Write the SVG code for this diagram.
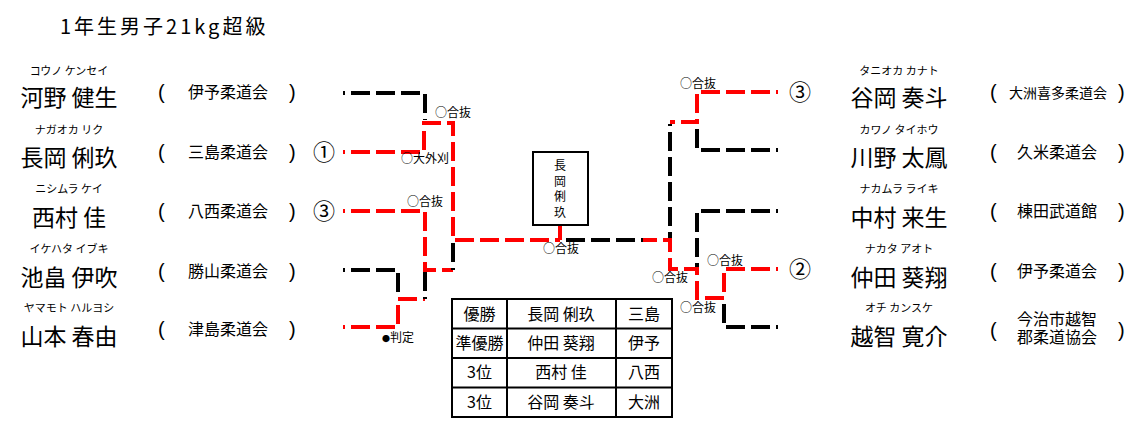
<svg xmlns="http://www.w3.org/2000/svg" width="1140" height="430" viewBox="0 0 1140 430">
<style>
text{font-family:"Noto Sans CJK JP","Noto Sans CJK SC",sans-serif;fill:#000}
.title{font-size:20px;letter-spacing:3px}
.kana{font-size:11px;text-anchor:middle}
.name{font-size:23px;text-anchor:middle}
.club{font-size:16px;text-anchor:middle}
.club2{font-size:14px;text-anchor:middle}
.par{font-size:20px;font-family:"Liberation Sans",sans-serif}
.num{font-size:22px;text-anchor:middle}
.lbl{font-size:12px}
.tb{font-size:16px;text-anchor:middle}
.bx{font-size:12px;text-anchor:middle}
.k{stroke:#000;stroke-width:4;fill:none;stroke-dasharray:19 6;stroke-dashoffset:17}
.r{stroke:#f00;stroke-width:4;fill:none;stroke-dasharray:19 6;stroke-dashoffset:17}
.grid{stroke:#000;stroke-width:2;fill:none}
</style>
<text class="title" x="60" y="34">1年生男子21kg超級</text>

<g id="left-1"><text class="kana" x="69" y="75">コウノ ケンセイ</text><text class="name" x="69" y="106">河野 健生</text><text class="par" x="158" y="99">(</text><text class="club" x="228" y="98">伊予柔道会</text><text class="par" x="289" y="99">)</text></g>
<g id="left-2"><text class="kana" x="69" y="134">ナガオカ リク</text><text class="name" x="69" y="166">長岡 俐玖</text><text class="par" x="158" y="159">(</text><text class="club" x="228" y="158">三島柔道会</text><text class="par" x="289" y="159">)</text><text class="num" x="324" y="160">①</text></g>
<g id="left-3"><text class="kana" x="69" y="193">ニシムラ ケイ</text><text class="name" x="69" y="226">西村 佳</text><text class="par" x="158" y="218">(</text><text class="club" x="228" y="217">八西柔道会</text><text class="par" x="289" y="218">)</text><text class="num" x="324" y="219">③</text></g>
<g id="left-4"><text class="kana" x="69" y="253">イケハタ イブキ</text><text class="name" x="69" y="286">池畠 伊吹</text><text class="par" x="158" y="278">(</text><text class="club" x="228" y="277">勝山柔道会</text><text class="par" x="289" y="278">)</text></g>
<g id="left-5"><text class="kana" x="69" y="312">ヤマモト ハルヨシ</text><text class="name" x="69" y="345">山本 春由</text><text class="par" x="158" y="336">(</text><text class="club" x="228" y="335">津島柔道会</text><text class="par" x="289" y="336">)</text></g>

<g id="right-1"><text class="kana" x="899" y="75">タニオカ カナト</text><text class="name" x="899" y="106">谷岡 奏斗</text><text class="par" x="990" y="99">(</text><text class="club2" x="1058" y="98">大洲喜多柔道会</text><text class="par" x="1118" y="99">)</text><text class="num" x="800" y="100">③</text></g>
<g id="right-2"><text class="kana" x="899" y="134">カワノ タイホウ</text><text class="name" x="899" y="166">川野 太鳳</text><text class="par" x="990" y="159">(</text><text class="club" x="1057" y="158">久米柔道会</text><text class="par" x="1118" y="159">)</text></g>
<g id="right-3"><text class="kana" x="899" y="193">ナカムラ ライキ</text><text class="name" x="899" y="226">中村 来生</text><text class="par" x="990" y="218">(</text><text class="club" x="1057" y="217">棟田武道館</text><text class="par" x="1118" y="218">)</text></g>
<g id="right-4"><text class="kana" x="899" y="253">ナカタ アオト</text><text class="name" x="899" y="286">仲田 葵翔</text><text class="par" x="990" y="278">(</text><text class="club" x="1057" y="277">伊予柔道会</text><text class="par" x="1118" y="278">)</text><text class="num" x="800" y="277">②</text></g>
<g id="right-5"><text class="kana" x="899" y="312">オチ カンスケ</text><text class="name" x="899" y="345">越智 寛介</text><text class="par" x="990" y="337">(</text><text class="club" x="1057" y="325">今治市越智<tspan x="1057" y="343">郡柔道協会</tspan></text><text class="par" x="1118" y="337">)</text></g>

<g id="connectors">
<path class="k" d="M343,93 H425 V120"/>
<path class="r" d="M343,152 H424 V123 H453 V240 H560"/>
<path class="k" d="M343,270 H398 V297"/>
<path class="r" d="M343,327 H398 V299 H425"/>
<path class="k" d="M425,299 V272"/>
<path class="r" d="M343,211 H425 V270 H453"/>
<path class="k" d="M453,270 V242"/>
<path stroke="#f00" stroke-width="4" d="M560,225 V240"/>
<path class="k" d="M643,240 H560"/>
<path class="r" d="M778,92 H697 V122 H670"/>
<path class="k" d="M778,150 H697 V124"/>
<path class="k" d="M670,124 V238"/>
<path class="k" d="M778,211 H697 V267"/>
<path class="r" d="M778,269 H724 V298 H697 V269 H670 V240 H643"/>
<path class="k" d="M778,327 H724 V300"/>
</g>

<g id="labels">
<text class="lbl" x="435" y="117">○合抜</text>
<text class="lbl" x="401" y="163">○大外刈</text>
<text class="lbl" x="407" y="206">○合抜</text>
<text class="lbl" x="382" y="342"><tspan font-size="8">●</tspan>判定</text>
<text class="lbl" x="543" y="253">○合抜</text>
<text class="lbl" x="680" y="88">○合抜</text>
<text class="lbl" x="707" y="265">○合抜</text>
<text class="lbl" x="652" y="282">○合抜</text>
<text class="lbl" x="680" y="312">○合抜</text>
</g>

<g id="winner-box">
<rect x="533" y="152" width="55" height="73" fill="#fff" stroke="#000" stroke-width="2"/>
<text class="bx" x="560" y="170">長</text>
<text class="bx" x="560" y="186">岡</text>
<text class="bx" x="560" y="201">俐</text>
<text class="bx" x="560" y="217">玖</text>
</g>

<g id="results">
<rect class="grid" x="452" y="299" width="220" height="118"/>
<path class="grid" d="M507,299 V417 M616,299 V417 M452,328.5 H672 M452,358 H672 M452,387.5 H672"/>
<text class="tb" x="479.5" y="320">優勝</text><text class="tb" x="561" y="320">長岡 俐玖</text><text class="tb" x="644" y="320">三島</text>
<text class="tb" x="479.5" y="349">準優勝</text><text class="tb" x="561" y="349">仲田 葵翔</text><text class="tb" x="644" y="349">伊予</text>
<text class="tb" x="479.5" y="378">3位</text><text class="tb" x="561" y="378">西村 佳</text><text class="tb" x="644" y="378">八西</text>
<text class="tb" x="479.5" y="408">3位</text><text class="tb" x="561" y="408">谷岡 奏斗</text><text class="tb" x="644" y="408">大洲</text>
</g>
</svg>
